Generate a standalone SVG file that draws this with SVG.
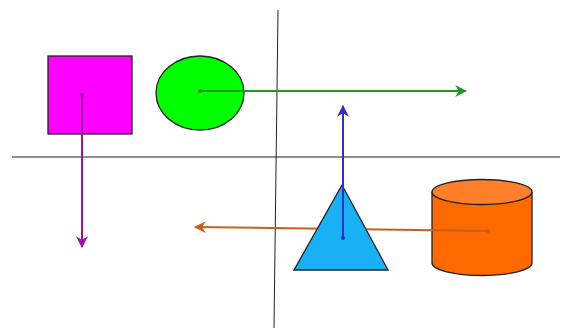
<svg xmlns="http://www.w3.org/2000/svg" width="566" height="329" viewBox="0 0 566 329">
<style>
.ax{stroke:#222;stroke-width:1;fill:none}
.shape{stroke:#222;stroke-width:1.3}
.conn{stroke-width:2;fill:none}
</style>
<defs>
<marker id="mP" viewBox="0 0 10 10" refX="9" refY="5" markerWidth="6" markerHeight="6" orient="auto"><path d="M0,0 L10,5 L0,10 L3,5 Z" fill="#9a159a"/></marker>
<marker id="mG" viewBox="0 0 10 10" refX="9" refY="5" markerWidth="6" markerHeight="6" orient="auto"><path d="M0,0 L10,5 L0,10 L3,5 Z" fill="#1f9a1f"/></marker>
<marker id="mB" viewBox="0 0 10 10" refX="9" refY="5" markerWidth="6" markerHeight="6" orient="auto"><path d="M0,0 L10,5 L0,10 L3,5 Z" fill="#3030c8"/></marker>
<marker id="mO" viewBox="0 0 10 10" refX="9" refY="5" markerWidth="6" markerHeight="6" orient="auto"><path d="M0,0 L10,5 L0,10 L3,5 Z" fill="#c8601a"/></marker>
<mask id="triHole" maskUnits="userSpaceOnUse" x="0" y="0" width="566" height="329">
<rect width="566" height="329" fill="#fff"/>
<polygon points="342,185 294,270 388,270" fill="#000" stroke="#000" stroke-width="1.3"/>
</mask>
</defs>
<rect width="566" height="329" fill="#fff"/>
<g id="axes">
<line class="ax" x1="12" y1="157" x2="560" y2="157"/>
<line class="ax" x1="278" y1="10" x2="274" y2="328"/>
</g>
<g id="square"><rect class="shape" x="48" y="56" width="84" height="78" fill="#ff00ff"/></g>
<g id="ellipse"><ellipse class="shape" cx="200" cy="93" rx="44" ry="37" fill="#00ff00"/></g>
<g id="triangle"><polygon class="shape" points="342,185 294,270 388,270" fill="#1ab0f5"/></g>
<g id="cylinder">
<path class="shape" d="M432,192 L432,263 A50,12.5 0 0 0 532,263 L532,192" fill="#ff6a00"/>
<ellipse class="shape" cx="482" cy="192" rx="50" ry="12.5" fill="#ff7f2a"/>
</g>
<g id="connectors">
<line class="conn" x1="82" y1="95" x2="82" y2="247" stroke="#9a159a" marker-end="url(#mP)"/>
<circle cx="82" cy="95" r="2" fill="#9a159a"/>
<line class="conn" x1="200" y1="91" x2="466" y2="91" stroke="#1f9a1f" marker-end="url(#mG)"/>
<circle cx="200" cy="91" r="2" fill="#1f9a1f"/>
<g mask="url(#triHole)">
<line class="conn" x1="488" y1="231" x2="195" y2="227" stroke="#c8601a" marker-end="url(#mO)"/>
<circle cx="488" cy="231" r="2" fill="#c8601a"/>
</g>
<line class="conn" x1="343" y1="238" x2="343" y2="106" stroke="#3030c8" marker-end="url(#mB)"/>
<circle cx="343" cy="238" r="2" fill="#3030c8"/>
</g>
</svg>
